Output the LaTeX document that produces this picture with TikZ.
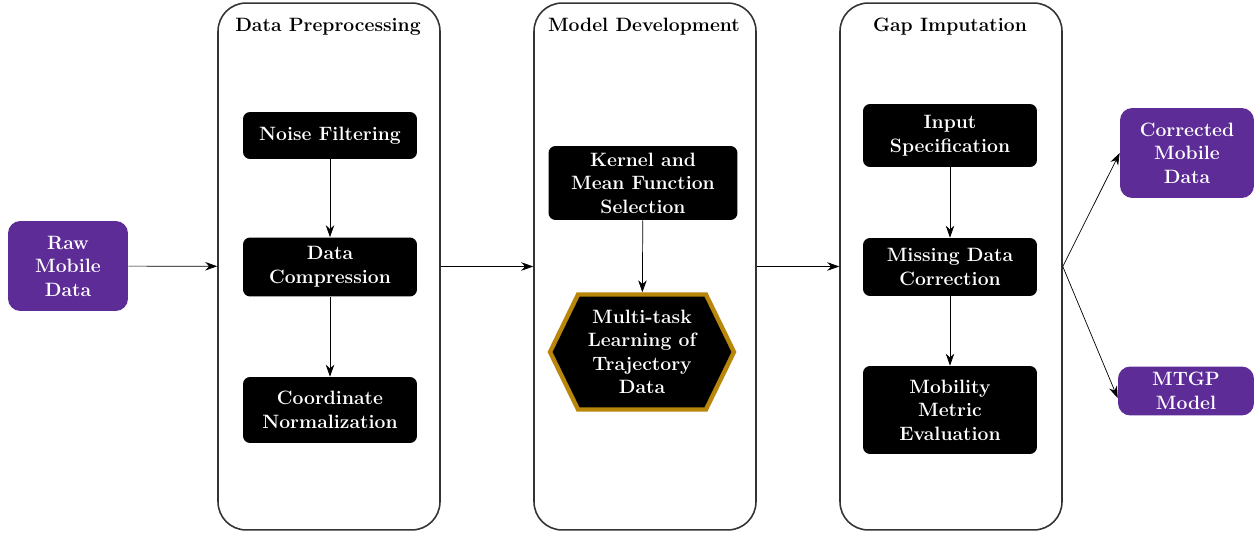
\documentclass[tikz,border=0pt]{standalone}
\usepackage{tikz}
\usetikzlibrary{arrows.meta,positioning,shapes.symbols}
\definecolor{iopurple}{RGB}{93,44,150}
\definecolor{hexgold}{RGB}{184,134,11}

\begin{document}
\begin{tikzpicture}[
    x=0.02cm, y=-0.02cm,
    every node/.append style={font=\fontsize{11}{13.4}\selectfont\bfseries},
    stage/.style={rectangle,draw=black!80,line width=0.9pt,rounded corners=16pt,minimum width=4.44cm,minimum height=10.54cm},
    stagetitle/.style={anchor=north},
    task/.style={rectangle,fill=black,text=white,rounded corners=4pt,align=center,minimum width=3.48cm},
    io/.style={rectangle,fill=iopurple,text=white,rounded corners=7pt,align=center},
    >={Stealth[length=2.4mm,width=1.7mm]}]
    \useasboundingbox (0,0) rectangle (1258,533);

    % stages
    \node[stage] (prep) at (329,266.5) {};
    \node[stage] (model) at (645,266.5) {};
    \node[stage] (gap) at (951,266.5) {};
    \node[stagetitle] (preptitle) at (328,12) {Data Preprocessing};
    \node[stagetitle] (modeltitle) at (644,12) {Model Development};
    \node[stagetitle] (gaptitle) at (950,12) {Gap Imputation};

    % inputs and outputs
    \node[io,minimum width=2.4cm,minimum height=1.8cm] (raw) at (68,266) {Raw\\Mobile\\Data};
    \node[io,minimum width=2.68cm,minimum height=1.8cm] (corr) at (1187,153) {Corrected\\Mobile\\Data};
    \node[io,minimum width=2.72cm,minimum height=0.98cm,inner sep=1pt] (mtgp) at (1186,391) {MTGP\\Model};

    % data preprocessing
    \node[task,minimum height=0.94cm] (noise) at (330,135.5) {Noise Filtering};
    \node[task,minimum height=1.18cm] (compress) at (330,267) {Data\\Compression};
    \node[task,minimum height=1.32cm] (coord) at (330,410) {Coordinate\\Normalization};

    % model development
    \node[task,minimum width=3.78cm,minimum height=1.48cm] (kernel) at (643,183) {Kernel and\\Mean Function\\Selection};
    \node[signal,signal to=east and west,signal pointer angle=128,fill=black,draw=hexgold,line width=2.5pt,
          text=white,align=center,minimum width=3.68cm,minimum height=2.3cm,inner sep=1pt] (mtl) at (642,352)
          {Multi-task\\Learning of\\Trajectory\\Data};

    % gap imputation
    \node[task,minimum height=1.26cm] (input) at (950,135.5) {Input\\Specification};
    \node[task,minimum height=1.16cm] (missing) at (950,267) {Missing Data\\Correction};
    \node[task,minimum height=1.76cm] (mobility) at (950,410) {Mobility\\Metric\\Evaluation};

    \draw[->] (raw) -- (prep);
    \draw[->] (prep) -- (model);
    \draw[->] (model) -- (gap);
    \draw[->] (gap.east) -- (corr.west);
    \draw[->] (gap.east) -- ([yshift=-4pt]mtgp.west);

    \draw[->] (noise) -- (compress);
    \draw[->] (compress) -- (coord);
    \draw[->] (kernel) -- (mtl);
    \draw[->] (input) -- (missing);
    \draw[->] (missing) -- (mobility);
\end{tikzpicture}
\end{document}
